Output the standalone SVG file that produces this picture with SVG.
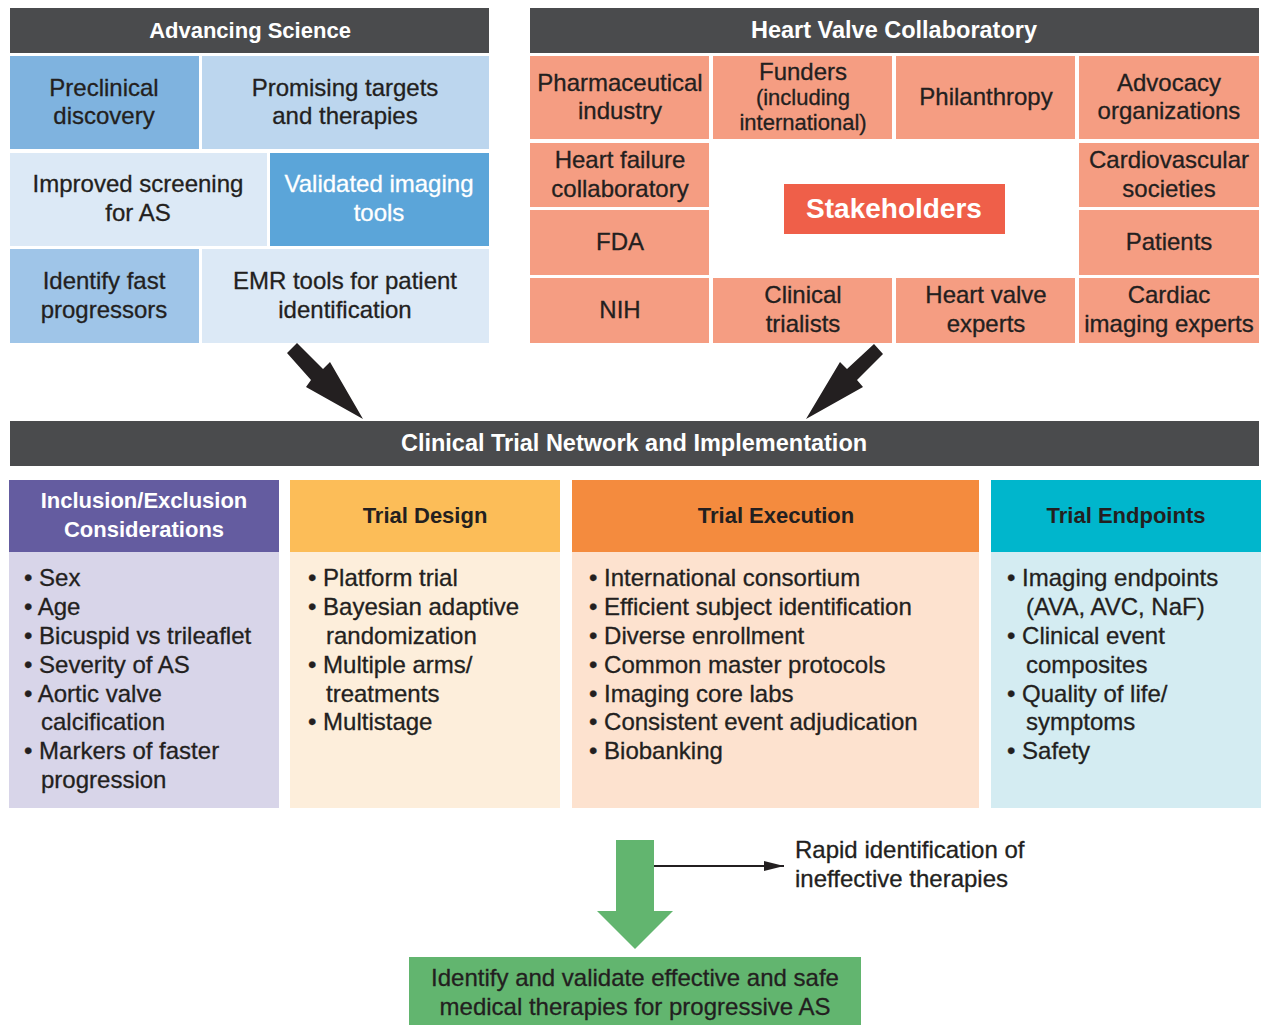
<svg xmlns="http://www.w3.org/2000/svg" width="1264" height="1025" viewBox="0 0 1264 1025">
<style>
text{font-family:"Liberation Sans",Arial,sans-serif;}
.hdr{font-size:22px;font-weight:bold;fill:#fff;text-anchor:middle;}
.big{font-size:23.5px;}
.hdk{font-size:22px;font-weight:bold;fill:#231f20;text-anchor:middle;}
.t{font-size:24px;fill:#231f20;text-anchor:middle;stroke:#231f20;stroke-width:0.3;}
.tw{font-size:24px;fill:#fff;text-anchor:middle;stroke:#fff;stroke-width:0.3;}
.s{font-size:22px;fill:#231f20;text-anchor:middle;stroke:#231f20;stroke-width:0.3;}
.b{font-size:24px;fill:#231f20;stroke:#231f20;stroke-width:0.3;}
.dark{fill:#4a4b4d;}
.sal{fill:#f59d82;}
</style>
<defs>
<marker id="ah" viewBox="0 0 20 10" markerWidth="20" markerHeight="10" refX="20" refY="5" markerUnits="userSpaceOnUse" orient="auto">
<path d="M0,0 L20,5 L0,10 z" fill="#231f20"/>
</marker>
</defs>
<rect width="1264" height="1025" fill="#fff"/>

<g id="advancing-science">
<rect class="dark" x="10" y="8" width="479" height="45"/>
<text class="hdr" x="250" y="37.5">Advancing Science</text>
</g>
<g id="preclinical">
<rect x="10" y="56" width="189" height="93" fill="#7fb3df"/>
<text class="t" x="104" y="96">Preclinical</text>
<text class="t" x="104" y="124">discovery</text>
</g>
<g id="promising">
<rect x="202" y="56" width="287" height="93" fill="#bcd6ee"/>
<text class="t" x="345" y="96">Promising targets</text>
<text class="t" x="345" y="124">and therapies</text>
</g>
<g id="screening">
<rect x="10" y="153" width="257" height="93" fill="#dce9f6"/>
<text class="t" x="138" y="192">Improved screening</text>
<text class="t" x="138" y="220.5">for AS</text>
</g>
<g id="imaging-tools">
<rect x="270" y="153" width="219" height="93" fill="#5ba5d9"/>
<text class="tw" x="379" y="192">Validated imaging</text>
<text class="tw" x="379" y="220.5">tools</text>
</g>
<g id="fast-progressors">
<rect x="10" y="249" width="189" height="94" fill="#9fc5e8"/>
<text class="t" x="104" y="289">Identify fast</text>
<text class="t" x="104" y="317.5">progressors</text>
</g>
<g id="emr">
<rect x="202" y="249" width="287" height="94" fill="#dce9f6"/>
<text class="t" x="345" y="289">EMR tools for patient</text>
<text class="t" x="345" y="317.5">identification</text>
</g>

<g id="hvc">
<rect class="dark" x="530" y="8" width="729" height="45"/>
<text class="hdr big" x="894" y="38">Heart Valve Collaboratory</text>
</g>
<g id="pharma">
<rect class="sal" x="530" y="56" width="179" height="83"/>
<text class="t" x="620" y="91">Pharmaceutical</text>
<text class="t" x="620" y="119">industry</text>
</g>
<g id="funders">
<rect class="sal" x="713" y="56" width="179" height="83"/>
<text class="t" x="803" y="79.5">Funders</text>
<text class="s" x="803" y="104.5">(including</text>
<text class="s" x="803" y="129.5">international)</text>
</g>
<g id="philanthropy">
<rect class="sal" x="896" y="56" width="179" height="83"/>
<text class="t" x="986" y="104.5">Philanthropy</text>
</g>
<g id="advocacy">
<rect class="sal" x="1079" y="56" width="180" height="83"/>
<text class="t" x="1169" y="91">Advocacy</text>
<text class="t" x="1169" y="119">organizations</text>
</g>
<g id="hf-collab">
<rect class="sal" x="530" y="143" width="179" height="64"/>
<text class="t" x="620" y="167.5">Heart failure</text>
<text class="t" x="620" y="196.5">collaboratory</text>
</g>
<g id="cv-societies">
<rect class="sal" x="1079" y="143" width="180" height="64"/>
<text class="t" x="1169" y="167.5">Cardiovascular</text>
<text class="t" x="1169" y="196.5">societies</text>
</g>
<g id="fda">
<rect class="sal" x="530" y="210" width="179" height="65"/>
<text class="t" x="620" y="249.5">FDA</text>
</g>
<g id="patients">
<rect class="sal" x="1079" y="210" width="180" height="65"/>
<text class="t" x="1169" y="249.5">Patients</text>
</g>
<g id="stakeholders">
<rect x="784" y="184" width="221" height="50" fill="#ef5f49"/>
<text x="894" y="217.5" font-size="28" font-weight="bold" fill="#fff" text-anchor="middle">Stakeholders</text>
</g>
<g id="nih">
<rect class="sal" x="530" y="278" width="179" height="65"/>
<text class="t" x="620" y="317.5">NIH</text>
</g>
<g id="trialists">
<rect class="sal" x="713" y="278" width="179" height="65"/>
<text class="t" x="803" y="302.5">Clinical</text>
<text class="t" x="803" y="331.5">trialists</text>
</g>
<g id="hv-experts">
<rect class="sal" x="896" y="278" width="179" height="65"/>
<text class="t" x="986" y="302.5">Heart valve</text>
<text class="t" x="986" y="331.5">experts</text>
</g>
<g id="imaging-experts">
<rect class="sal" x="1079" y="278" width="180" height="65"/>
<text class="t" x="1169" y="302.5">Cardiac</text>
<text class="t" x="1169" y="331.5">imaging experts</text>
</g>

<g id="network">
<rect class="dark" x="10" y="421" width="1249" height="45"/>
<text class="hdr big" x="634" y="451">Clinical Trial Network and Implementation</text>
</g>

<g id="inclusion">
<rect x="9" y="480" width="270" height="72" fill="#645ca0"/>
<rect x="9" y="552" width="270" height="256" fill="#d8d5e9"/>
<text class="hdr" x="144" y="508">Inclusion/Exclusion</text>
<text class="hdr" x="144" y="537">Considerations</text>
<text class="b" x="24" y="585.5">• Sex</text>
<text class="b" x="24" y="614.5">• Age</text>
<text class="b" x="24" y="643.5">• Bicuspid vs trileaflet</text>
<text class="b" x="24" y="672.5">• Severity of AS</text>
<text class="b" x="24" y="701.5">• Aortic valve</text>
<text class="b" x="41" y="729.5">calcification</text>
<text class="b" x="24" y="758.5">• Markers of faster</text>
<text class="b" x="41" y="787.5">progression</text>
</g>
<g id="design">
<rect x="290" y="480" width="270" height="72" fill="#fcbd58"/>
<rect x="290" y="552" width="270" height="256" fill="#fdeedb"/>
<text class="hdk" x="425" y="523">Trial Design</text>
<text class="b" x="308" y="585.5">• Platform trial</text>
<text class="b" x="308" y="614.5">• Bayesian adaptive</text>
<text class="b" x="326" y="643.5">randomization</text>
<text class="b" x="308" y="672.5">• Multiple arms/</text>
<text class="b" x="326" y="701.5">treatments</text>
<text class="b" x="308" y="729.5">• Multistage</text>
</g>
<g id="execution">
<rect x="572" y="480" width="407" height="72" fill="#f48b3e"/>
<rect x="572" y="552" width="407" height="256" fill="#fde2cf"/>
<text class="hdk" x="776" y="523">Trial Execution</text>
<text class="b" x="589" y="585.5">• International consortium</text>
<text class="b" x="589" y="614.5">• Efficient subject identification</text>
<text class="b" x="589" y="643.5">• Diverse enrollment</text>
<text class="b" x="589" y="672.5">• Common master protocols</text>
<text class="b" x="589" y="701.5">• Imaging core labs</text>
<text class="b" x="589" y="729.5">• Consistent event adjudication</text>
<text class="b" x="589" y="758.5">• Biobanking</text>
</g>
<g id="endpoints">
<rect x="991" y="480" width="270" height="72" fill="#00b6cc"/>
<rect x="991" y="552" width="270" height="256" fill="#d4ecf2"/>
<text class="hdk" x="1126" y="523">Trial Endpoints</text>
<text class="b" x="1007" y="585.5">• Imaging endpoints</text>
<text class="b" x="1026" y="614.5">(AVA, AVC, NaF)</text>
<text class="b" x="1007" y="643.5">• Clinical event</text>
<text class="b" x="1026" y="672.5">composites</text>
<text class="b" x="1007" y="701.5">• Quality of life/</text>
<text class="b" x="1026" y="729.5">symptoms</text>
<text class="b" x="1007" y="758.5">• Safety</text>
</g>

<g id="rapid-identification">
<text class="b" x="795" y="857.5">Rapid identification of</text>
<text class="b" x="795" y="886.5">ineffective therapies</text>
</g>
<g id="outcome">
<rect x="409" y="957" width="452" height="68" fill="#62b56f"/>
<text class="t" x="635" y="985.5">Identify and validate effective and safe</text>
<text class="t" x="635" y="1014.5">medical therapies for progressive AS</text>
</g>

<g id="connectors">
<polygon points="287,353 297,343 323,369 330,362 363,419 306,387 311,380" fill="#231f20"/>
<polygon points="874,344 883,354 857,380 863,387 806,419 840,362 847,369" fill="#231f20"/>
<polygon points="616,840 654,840 654,911 673,911 635,949 597,911 616,911" fill="#62b56f"/>
<line x1="654" y1="866" x2="784" y2="866" stroke="#231f20" stroke-width="2" marker-end="url(#ah)"/>
</g>
</svg>
